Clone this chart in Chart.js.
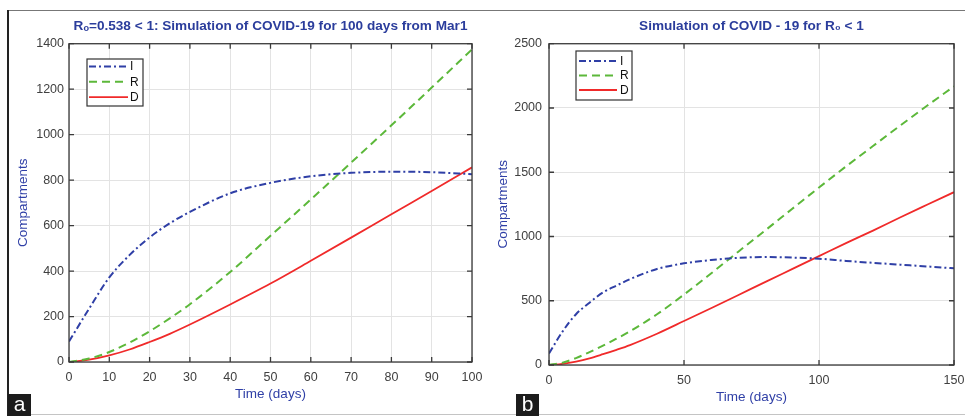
<!DOCTYPE html>
<html><head><meta charset="utf-8">
<script src="https://cdn.jsdelivr.net/npm/chart.js@4"></script>
<style>
html,body{margin:0;padding:0;background:#fff;}
#wrap{position:relative;width:965px;height:416px;overflow:hidden;font-family:"Liberation Sans",Arial,sans-serif;background:#fff;}
#c1{position:absolute;left:0;top:0;}
#c2{position:absolute;left:482px;top:0;}
.frameTop{position:absolute;left:8px;top:10px;width:957px;height:1px;background:#777;}
.frameLeft{position:absolute;left:7px;top:10px;width:2px;height:406px;background:#222;}
.frameBottom{position:absolute;left:8px;top:414px;width:957px;height:1px;background:#c4c4c4;}
.tag{position:absolute;top:394px;width:23px;height:22px;background:#1c1c1c;color:#fff;font-size:21px;line-height:19px;text-align:center;}
</style>
</head><body>
<div id="wrap">
<canvas id="c1" width="482" height="416"></canvas>
<canvas id="c2" width="483" height="416"></canvas>
<div class="frameTop"></div><div class="frameLeft"></div><div class="frameBottom"></div>
<div class="tag" style="left:8px;">a</div>
<div class="tag" style="left:516px;">b</div>
</div>
<script>
// ---- data (panel a) ----
const daysA = [0,5,10,15,20,25,30,40,50,60,70,80,90,100];
const infectedA = [90,235,372,470,548,610,660,742,788,817,832,837,835,826];
const recoveredA = [0,15,44,85,135,192,254,396,555,715,877,1041,1207,1375];
const deadA = [0,10,29,55,88,124,165,253,345,445,547,650,752,856];
// ---- data (panel b) ----
const daysB = [0,5,10,15,20,25,30,40,50,60,70,80,90,100,110,120,130,140,150];
const infectedB = [90,260,395,485,565,618,668,747,791,817,834,840,836,827,810,795,781,767,752];
const recoveredB = [0,18,54,100,150,205,262,395,548,712,880,1046,1214,1381,1545,1704,1862,2017,2168];
const deadB = [0,9,27,52,84,118,155,243,342,442,543,645,746,847,948,1046,1148,1247,1345];
// ---- labels ----
const seriesLabels = ['I','R','D'];
const titleA = 'Rₒ=0.538 < 1: Simulation of COVID-19 for 100 days from Mar1';
const titleB = 'Simulation of COVID - 19 for R₀ < 1';
const xTitle = 'Time (days)';
const yTitle = 'Compartments';

Chart.defaults.font.family = '"Liberation Sans", Arial, sans-serif';
Chart.defaults.animation = false;

const BLUE = '#2f3fa6', GREEN = '#5cb83a', RED = '#f02a2a';
const TITLE_BLUE = '#2b3d9c';

const boxPlugin = {
  id: 'boxTicks',
  afterDatasetsDraw(chart) {
    const {ctx, chartArea: a, scales} = chart;
    ctx.save();
    ctx.strokeStyle = '#3a3a3a';
    ctx.lineWidth = 1.3;
    ctx.beginPath();
    scales.x.ticks.forEach(t => {
      const px = scales.x.getPixelForValue(t.value);
      ctx.moveTo(px, a.bottom); ctx.lineTo(px, a.bottom - 5);
      ctx.moveTo(px, a.top); ctx.lineTo(px, a.top + 5);
    });
    scales.y.ticks.forEach(t => {
      const py = scales.y.getPixelForValue(t.value);
      ctx.moveTo(a.left, py); ctx.lineTo(a.left + 5, py);
      ctx.moveTo(a.right, py); ctx.lineTo(a.right - 5, py);
    });
    ctx.stroke();
    ctx.strokeRect(a.left, a.top, a.right - a.left, a.bottom - a.top);
    ctx.restore();
  }
};

const boxLegend = {
  id: 'boxLegend',
  afterDraw(chart, args, o) {
    const ctx = chart.ctx;
    ctx.save();
    ctx.fillStyle = '#fff';
    ctx.fillRect(o.x, o.y, o.w, o.h);
    ctx.strokeStyle = '#333';
    ctx.lineWidth = 1.2;
    ctx.strokeRect(o.x, o.y, o.w, o.h);
    chart.data.datasets.forEach((ds, i) => {
      const y = o.y + o.rowStart + i * o.rowStep;
      ctx.beginPath();
      ctx.strokeStyle = ds.borderColor;
      ctx.lineWidth = ds.borderWidth;
      ctx.setLineDash(ds.borderDash || []);
      ctx.moveTo(o.x + o.lx0, y); ctx.lineTo(o.x + o.lx1, y);
      ctx.stroke();
      ctx.setLineDash([]);
      ctx.fillStyle = '#111';
      ctx.font = '12px "Liberation Sans", Arial, sans-serif';
      ctx.textBaseline = 'middle';
      ctx.textAlign = 'left';
      ctx.fillText(ds.label, o.x + o.tx, y + 0.5);
    });
    ctx.restore();
  }
};

function pts(xs, ys) { return xs.map((x, i) => ({x: x, y: ys[i]})); }
const plain = v => String(v);

function makeChart(id, days, I, R, D, cfg) {
  const dsBase = {pointRadius: 0, cubicInterpolationMode: 'monotone', fill: false};
  return new Chart(document.getElementById(id), {
    type: 'line',
    data: {
      datasets: [
        Object.assign({label: seriesLabels[0], data: pts(days, I), borderColor: BLUE, borderWidth: 2, borderDash: [7,3,2,3]}, dsBase),
        Object.assign({label: seriesLabels[1], data: pts(days, R), borderColor: GREEN, borderWidth: 2, borderDash: [8,5]}, dsBase),
        Object.assign({label: seriesLabels[2], data: pts(days, D), borderColor: RED, borderWidth: 1.8}, dsBase)
      ]
    },
    options: {
      responsive: false,
      devicePixelRatio: 1,
      layout: {padding: cfg.padding},
      scales: {
        x: {
          type: 'linear', min: 0, max: cfg.xmax,
          ticks: {stepSize: cfg.xstep, color: '#404040', font: {size: 12.5}, padding: cfg.xTickPad, autoSkip: false, maxRotation: 0, callback: plain},
          grid: {color: '#e3e3e3', drawTicks: false},
          border: {display: false},
          title: {display: true, text: xTitle, color: BLUE, font: {size: 13.5}, padding: {top: 0, bottom: 0}},
          afterFit(s) { s.height = cfg.xHeight; s.paddingLeft = 0; s.paddingRight = 0; }
        },
        y: {
          min: 0, max: cfg.ymax,
          ticks: {stepSize: cfg.ystep, color: '#404040', font: {size: 12.5}, padding: cfg.yTickPad, callback: plain},
          grid: {color: '#e3e3e3', drawTicks: false},
          border: {display: false},
          title: {display: true, text: yTitle, color: BLUE, font: {size: 13.5}, padding: {top: 7, bottom: 0}},
          afterFit(s) { s.width = cfg.yWidth; s.paddingTop = 0; s.paddingBottom = 0; }
        }
      },
      plugins: {
        legend: {display: false},
        tooltip: {enabled: false},
        title: {display: true, text: cfg.title, color: TITLE_BLUE, font: {size: 13.6, weight: 'bold'}, padding: {top: 7.2, bottom: 9.2}, fullSize: false},
        boxLegend: cfg.legend
      }
    },
    plugins: [boxPlugin, boxLegend]
  });
}

makeChart('c1', daysA, infectedA, recoveredA, deadA, {
  padding: {left: 8, right: 10, top: 11, bottom: 14},
  xmax: 100, xstep: 10, ymax: 1400, ystep: 200,
  xHeight: 40, yWidth: 61, xTickPad: 8, yTickPad: 5,
  title: titleA,
  legend: {x: 87, y: 59, w: 56, h: 47, rowStart: 7.5, rowStep: 15.3, lx0: 2, lx1: 41, tx: 43}
});
makeChart('c2', daysB, infectedB, recoveredB, deadB, {
  padding: {left: 6, right: 11, top: 11, bottom: 11},
  xmax: 150, xstep: 50, ymax: 2500, ystep: 500,
  xHeight: 40, yWidth: 61, xTickPad: 8, yTickPad: 7,
  title: titleB,
  legend: {x: 94, y: 51, w: 56, h: 49, rowStart: 10, rowStep: 14.5, lx0: 3, lx1: 41, tx: 44}
});
</script>
</body></html>
